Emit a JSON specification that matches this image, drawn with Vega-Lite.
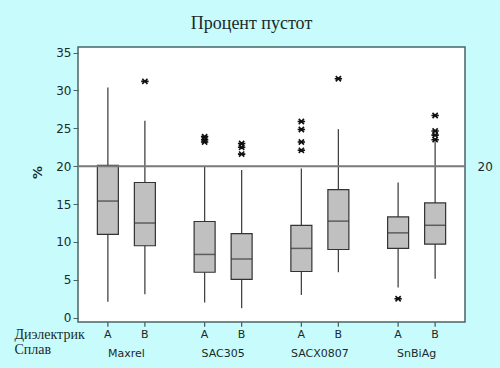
{
  "$schema": "https://vega.github.io/schema/vega-lite/v6.json",
  "width": 387,
  "height": 275,
  "autosize": "none",
  "padding": {"left": 78, "top": 47, "right": 35, "bottom": 46},
  "background": "#c8fcfc",
  "config": {
    "view": {"fill": "white", "stroke": "#4a6464", "strokeWidth": 1.5},
    "font": "DejaVu Sans",
    "axisLeft": {
      "values": [0, 5, 10, 15, 20, 25, 30, 35],
      "tickCount": 8,
      "labelOverlap": false,
      "labelFlush": false
    }
  },
  "title": {
    "text": "Процент пустот",
    "font": "Liberation Serif",
    "fontSize": 18,
    "fontWeight": "normal",
    "color": "#1a2a2a",
    "anchor": "middle",
    "dx": -20,
    "offset": 14
  },
  "datasets": {
    "summary": [
      {"alloy": "Maxrel", "diel": "A", "lower": 2.1, "q1": 11.0, "median": 15.4, "q3": 20.1, "upper": 30.4},
      {"alloy": "Maxrel", "diel": "B", "lower": 3.1, "q1": 9.5, "median": 12.5, "q3": 17.85, "upper": 26.0},
      {"alloy": "SAC305", "diel": "A", "lower": 2.0, "q1": 6.0, "median": 8.35, "q3": 12.7, "upper": 20.0},
      {"alloy": "SAC305", "diel": "B", "lower": 1.25, "q1": 5.05, "median": 7.75, "q3": 11.1, "upper": 19.5},
      {"alloy": "SACX0807", "diel": "A", "lower": 3.0, "q1": 6.1, "median": 9.15, "q3": 12.2, "upper": 19.7},
      {"alloy": "SACX0807", "diel": "B", "lower": 6.0, "q1": 9.0, "median": 12.75, "q3": 16.9, "upper": 24.9},
      {"alloy": "SnBiAg", "diel": "A", "lower": 4.0, "q1": 9.15, "median": 11.2, "q3": 13.3, "upper": 17.85},
      {"alloy": "SnBiAg", "diel": "B", "lower": 5.15, "q1": 9.7, "median": 12.2, "q3": 15.15, "upper": 23.3}
    ],
    "outliers": [
      {"alloy": "Maxrel", "diel": "B", "value": 31.2},
      {"alloy": "SAC305", "diel": "A", "value": 23.2},
      {"alloy": "SAC305", "diel": "A", "value": 23.5},
      {"alloy": "SAC305", "diel": "A", "value": 23.9},
      {"alloy": "SAC305", "diel": "B", "value": 23.0},
      {"alloy": "SAC305", "diel": "B", "value": 22.5},
      {"alloy": "SAC305", "diel": "B", "value": 21.6},
      {"alloy": "SACX0807", "diel": "A", "value": 25.9},
      {"alloy": "SACX0807", "diel": "A", "value": 24.85},
      {"alloy": "SACX0807", "diel": "A", "value": 23.2},
      {"alloy": "SACX0807", "diel": "A", "value": 22.1},
      {"alloy": "SACX0807", "diel": "B", "value": 31.55},
      {"alloy": "SnBiAg", "diel": "A", "value": 2.5},
      {"alloy": "SnBiAg", "diel": "B", "value": 26.7},
      {"alloy": "SnBiAg", "diel": "B", "value": 24.65},
      {"alloy": "SnBiAg", "diel": "B", "value": 24.1},
      {"alloy": "SnBiAg", "diel": "B", "value": 23.5}
    ]
  },
  "resolve": {"scale": {"y": "independent"}, "axis": {"y": "independent"}},
  "layer": [
    {
      "data": {"name": "summary"},
      "encoding": {
        "x": {
          "field": "alloy",
          "type": "nominal",
          "sort": ["Maxrel", "SAC305", "SACX0807", "SnBiAg"],
          "scale": {"paddingInner": 0, "paddingOuter": 0},
          "axis": {
            "labelAngle": 0,
            "ticks": false,
            "tickSize": 0,
            "domain": false,
            "labelPadding": 25,
            "labelFont": "DejaVu Sans",
            "labelFontSize": 11,
            "labelColor": "#1a2a2a",
            "title": ["Диэлектрик", "Сплав"],
            "titleFont": "Liberation Serif",
            "titleFontSize": 14,
            "titleFontWeight": "normal",
            "titleColor": "#1a2a2a",
            "titleX": -64,
            "titleY": 5,
            "titleAlign": "left",
            "titleAnchor": "start",
            "titleBaseline": "top",
            "titleLineHeight": 15.5,
            "titleAngle": 0
          }
        },
        "xOffset": {
          "field": "diel",
          "type": "nominal",
          "scale": {"paddingInner": 0, "paddingOuter": 0.307}
        }
      },
      "layer": [
        {
          "mark": {"type": "rule", "color": "#444444", "strokeWidth": 1.3},
          "encoding": {
            "y": {
              "field": "lower",
              "type": "quantitative",
              "scale": {"domain": [-0.57, 35.74], "nice": false, "zero": false},
              "axis": {
                "values": [0, 5, 10, 15, 20, 25, 30, 35],
                "tickCount": 8,
                "labelOverlap": false,
                "grid": false,
                "domain": false,
                "tickSize": 5,
                "tickColor": "#4a6464",
                "labelPadding": 2,
                "labelFont": "DejaVu Sans",
                "labelFontSize": 12,
                "labelColor": "#1a2a2a",
                "title": "%",
                "titleFont": "DejaVu Sans",
                "titleFontSize": 13,
                "titleFontWeight": "bold",
                "titleColor": "#1a2a2a",
                "titleX": -41,
                "titleY": 125,
                "titleAngle": -90,
                "titleAlign": "center",
                "titleBaseline": "middle"
              }
            },
            "y2": {"field": "upper"}
          }
        },
        {
          "mark": {"type": "bar", "size": 21, "fill": "#c0c0c0", "stroke": "#333333", "strokeWidth": 1.2},
          "encoding": {
            "y": {"field": "q1", "type": "quantitative"},
            "y2": {"field": "q3"}
          }
        },
        {
          "mark": {"type": "tick", "size": 21, "thickness": 1.5, "color": "#333333", "orient": "horizontal"},
          "encoding": {
            "y": {"field": "median", "type": "quantitative"}
          }
        },
        {
          "mark": {"type": "rule", "color": "#4a6464", "strokeWidth": 1.3},
          "encoding": {
            "y": {"datum": -0.57, "type": "quantitative"},
            "y2": {"datum": -1.2}
          }
        },
        {
          "mark": {"type": "text", "font": "DejaVu Sans", "fontSize": 11, "color": "#1a2a2a", "baseline": "middle", "align": "center"},
          "encoding": {
            "y": {"datum": -2.35, "type": "quantitative"},
            "text": {"field": "diel"}
          }
        },
        {
          "data": {"name": "outliers"},
          "mark": {
            "type": "point",
            "shape": "M-1,0L1,0M-0.7,-0.7L0.7,0.7M-0.7,0.7L0.7,-0.7",
            "filled": false,
            "stroke": "#111111",
            "strokeWidth": 1.6,
            "size": 55,
            "opacity": 1
          },
          "encoding": {
            "y": {"field": "value", "type": "quantitative"}
          }
        }
      ]
    },
    {
      "data": {"values": [{}]},
      "mark": {"type": "rule", "color": "#7a7a7a", "strokeWidth": 2},
      "encoding": {
        "y": {
          "datum": 20,
          "type": "quantitative",
          "scale": {"domain": [-0.57, 35.74], "nice": false, "zero": false},
          "axis": {
            "orient": "right",
            "values": [20],
            "grid": false,
            "domain": false,
            "ticks": false,
            "tickSize": 0,
            "labelPadding": 12,
            "labelFont": "DejaVu Sans",
            "labelFontSize": 12,
            "labelColor": "#1a2a2a",
            "title": null
          }
        }
      }
    }
  ]
}
